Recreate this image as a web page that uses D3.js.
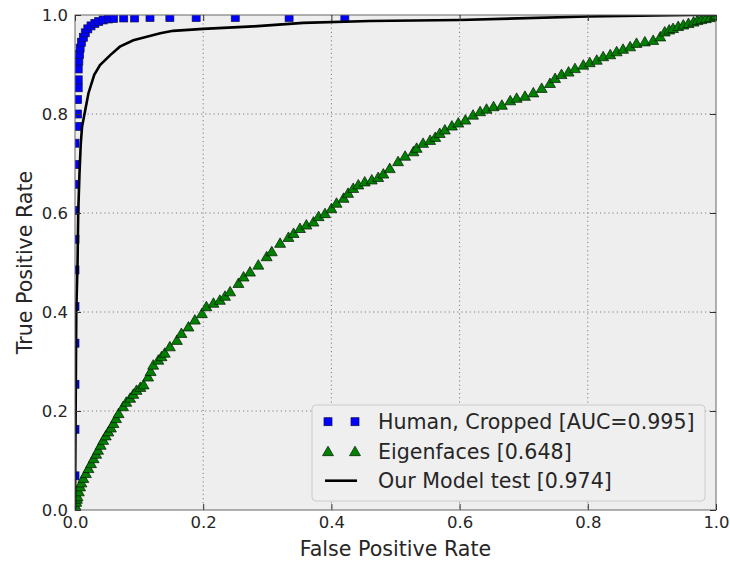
<!DOCTYPE html>
<html><head>
<meta charset="utf-8">
<script src="https://d3js.org/d3.v7.min.js"></script>
<style>
  body { margin: 0; background: #fff; }
  text { font-family: "DejaVu Sans", sans-serif; fill: #262626; }
  .tick line { stroke: #333; }
</style>
</head>
<body>
<svg id="roc" width="730" height="563"></svg>
<script>

// ROC points: [false positive rate, true positive rate]
const humanPoints = [
  [0,0.069],[0,0.163],[0,0.254],[0,0.337],[0,0.411],[0,0.485],[0,0.547],[0,0.605],
  [0,0.658],[0,0.698],[0,0.741],[0.004,0.775],[0.004,0.80],[0.004,0.829],[0.005,0.853],
  [0.005,0.869],[0.005,0.891],[0.006,0.907],[0.007,0.92],[0.008,0.933],[0.010,0.945],
  [0.013,0.955],[0.016,0.964],[0.020,0.972],[0.025,0.978],[0.031,0.983],[0.037,0.987],
  [0.044,0.990],[0.052,0.992],[0.060,0.993],[0.076,0.994],[0.093,0.994],[0.117,0.995],
  [0.148,0.995],[0.189,0.995],[0.250,0.995],[0.334,0.995],[0.421,0.995]
];

const eigenPoints = [
  [0,0],[0.001,0.008],[0.002,0.016],[0.003,0.022],[0.004,0.027],[0.006,0.037],[0.008,0.047],
  [0.010,0.055],[0.013,0.064],[0.017,0.074],[0.021,0.084],[0.025,0.094],[0.029,0.104],
  [0.033,0.113],[0.036,0.121],[0.040,0.131],[0.044,0.141],[0.048,0.150],[0.052,0.158],
  [0.056,0.166],[0.060,0.175],[0.064,0.185],[0.068,0.195],[0.075,0.209],[0.080,0.218],
  [0.086,0.226],[0.091,0.234],[0.096,0.242],[0.102,0.248],[0.107,0.253],[0.114,0.269],
  [0.118,0.280],[0.122,0.293],[0.130,0.303],[0.135,0.310],[0.140,0.317],[0.148,0.330],
  [0.159,0.343],[0.166,0.357],[0.177,0.370],[0.187,0.384],[0.198,0.397],[0.205,0.411],
  [0.216,0.418],[0.226,0.424],[0.234,0.432],[0.242,0.441],[0.255,0.458],[0.263,0.471],
  [0.273,0.481],[0.286,0.495],[0.299,0.512],[0.307,0.522],[0.320,0.539],[0.333,0.551],
  [0.341,0.559],[0.351,0.569],[0.361,0.576],[0.372,0.582],[0.380,0.593],[0.390,0.599],
  [0.400,0.609],[0.408,0.620],[0.419,0.630],[0.426,0.640],[0.434,0.650],[0.442,0.657],
  [0.452,0.663],[0.463,0.667],[0.473,0.672],[0.481,0.679],[0.491,0.690],[0.504,0.704],
  [0.515,0.715],[0.528,0.724],[0.533,0.731],[0.543,0.741],[0.554,0.747],[0.562,0.753],
  [0.569,0.761],[0.577,0.768],[0.588,0.776],[0.598,0.782],[0.609,0.788],[0.621,0.798],
  [0.632,0.805],[0.642,0.810],[0.653,0.815],[0.666,0.818],[0.679,0.827],[0.689,0.832],
  [0.702,0.836],[0.715,0.843],[0.728,0.852],[0.741,0.862],[0.749,0.872],[0.759,0.880],
  [0.770,0.885],[0.780,0.892],[0.793,0.899],[0.803,0.904],[0.814,0.909],[0.824,0.916],
  [0.835,0.920],[0.845,0.926],[0.855,0.931],[0.866,0.936],[0.876,0.943],[0.889,0.946],
  [0.902,0.949],[0.913,0.956],[0.920,0.966],[0.927,0.970],[0.933,0.973],[0.941,0.977],
  [0.949,0.980],[0.957,0.983],[0.965,0.986],[0.971,0.989],[0.977,0.991],[0.984,0.993],
  [0.991,0.995],[0.998,0.998],[1,1]
];

const modelPoints = [
  [0,0],[0.001,0.2],[0.002,0.4],[0.004,0.5],[0.005,0.6],[0.007,0.68],[0.009,0.74],
  [0.011,0.774],[0.016,0.808],[0.021,0.842],[0.030,0.879],[0.039,0.899],[0.055,0.919],
  [0.070,0.936],[0.091,0.949],[0.112,0.956],[0.133,0.963],[0.153,0.968],[0.200,0.972],
  [0.278,0.977],[0.356,0.984],[0.460,0.988],[0.600,0.990],[0.800,0.997],[0.960,1.0],[1,1]
];

const tickValues = [0, 0.2, 0.4, 0.6, 0.8, 1.0];
const legendLabels = ["Human, Cropped [AUC=0.995]", "Eigenfaces [0.648]", "Our Model test [0.974]"];

const svg = d3.select("#roc");
const pLeft = 75, pRight = 716, pTop = 15, pBottom = 510;

const x = d3.scaleLinear().domain([0, 1]).range([pLeft, pRight]);
const y = d3.scaleLinear().domain([0, 1]).range([pBottom, pTop]);

// axes background
svg.append("rect").attr("x", pLeft).attr("y", pTop)
   .attr("width", pRight - pLeft).attr("height", pBottom - pTop)
   .attr("fill", "#eeeeee");

svg.append("clipPath").attr("id", "plot-clip")
   .append("rect").attr("x", pLeft).attr("y", pTop)
   .attr("width", pRight - pLeft).attr("height", pBottom - pTop);

// dotted grid
const grid = svg.append("g").attr("stroke", "#7f7f7f").attr("stroke-width", 1)
                .attr("stroke-dasharray", "1.2,3");
grid.selectAll("line.gx").data(tickValues.slice(1, -1)).join("line").attr("class", "gx")
    .attr("x1", d => x(d)).attr("x2", d => x(d)).attr("y1", pTop).attr("y2", pBottom);
grid.selectAll("line.gy").data(tickValues.slice(1, -1)).join("line").attr("class", "gy")
    .attr("y1", d => y(d)).attr("y2", d => y(d)).attr("x1", pLeft).attr("x2", pRight);

const plot = svg.append("g").attr("clip-path", "url(#plot-clip)");

// Eigenfaces triangles
const tri = d3.symbol().type(d3.symbolTriangle).size(52);
plot.append("g").selectAll("path").data(eigenPoints).join("path")
    .attr("d", tri)
    .attr("transform", d => `translate(${x(d[0])},${y(d[1]) + 1})`)
    .attr("fill", "#008000").attr("stroke", "#051505").attr("stroke-width", 0.7);

// Human squares
plot.append("g").selectAll("rect").data(humanPoints).join("rect")
    .attr("x", d => x(d[0]) - 4).attr("y", d => y(d[1]) - 4)
    .attr("width", 8).attr("height", 8)
    .attr("fill", "#0000ff").attr("stroke", "#10104a").attr("stroke-width", 0.7);

// Our model line
plot.append("path").datum(modelPoints)
    .attr("d", d3.line().x(d => x(d[0])).y(d => y(d[1])))
    .attr("fill", "none").attr("stroke", "#000").attr("stroke-width", 2.6);

// frame
svg.append("rect").attr("x", pLeft).attr("y", pTop)
   .attr("width", pRight - pLeft).attr("height", pBottom - pTop)
   .attr("fill", "none").attr("stroke", "#666").attr("stroke-width", 1);

// axes with inward ticks
const fmt = d3.format(".1f");
const xAxis = svg.append("g").attr("transform", `translate(0,${pBottom})`)
   .call(d3.axisBottom(x).tickValues(tickValues).tickFormat(fmt).tickSize(-6).tickPadding(6));
const yAxis = svg.append("g").attr("transform", `translate(${pLeft},0)`)
   .call(d3.axisLeft(y).tickValues(tickValues).tickFormat(fmt).tickSize(-6).tickPadding(7));
const xTop = svg.append("g").attr("transform", `translate(0,${pTop})`)
   .call(d3.axisTop(x).tickValues(tickValues).tickFormat("").tickSize(-6));
const yRight = svg.append("g").attr("transform", `translate(${pRight},0)`)
   .call(d3.axisRight(y).tickValues(tickValues).tickFormat("").tickSize(-6));

[xAxis, yAxis, xTop, yRight].forEach(a => {
  a.select(".domain").remove();
  a.selectAll("text").attr("font-size", 16.5).attr("font-family", "DejaVu Sans, sans-serif")
   .attr("fill", "#262626");
});

// axis titles
svg.append("text").attr("x", (pLeft + pRight) / 2).attr("y", 556)
   .attr("text-anchor", "middle").attr("font-size", 20.6).text("False Positive Rate");
svg.append("text").attr("transform", `translate(32,${(pTop + pBottom) / 2}) rotate(-90)`)
   .attr("text-anchor", "middle").attr("font-size", 20.6).text("True Positive Rate");

// legend
const legend = svg.append("g");
legend.append("rect").attr("x", 312).attr("y", 405).attr("width", 393).attr("height", 96)
      .attr("rx", 4).attr("fill", "#efefef").attr("stroke", "#cccccc");
const rowY = [421.7, 451.5, 480.7];
legendLabels.forEach((label, i) => {
  legend.append("text").attr("x", 378).attr("y", rowY[i]).attr("dy", "0.36em")
        .attr("font-size", 20.6).attr("fill", "#111").text(label);
});
[328, 355].forEach(mx => {
  legend.append("rect").attr("x", mx - 4).attr("y", rowY[0] - 4).attr("width", 8).attr("height", 8)
        .attr("fill", "#0000ff").attr("stroke", "#10104a").attr("stroke-width", 0.7);
  legend.append("path").attr("d", tri).attr("transform", `translate(${mx},${rowY[1] + 1})`)
        .attr("fill", "#008000").attr("stroke", "#051505").attr("stroke-width", 0.7);
});
legend.append("line").attr("x1", 325).attr("x2", 357).attr("y1", rowY[2]).attr("y2", rowY[2])
      .attr("stroke", "#000").attr("stroke-width", 2.6);

</script>
</body>
</html>
